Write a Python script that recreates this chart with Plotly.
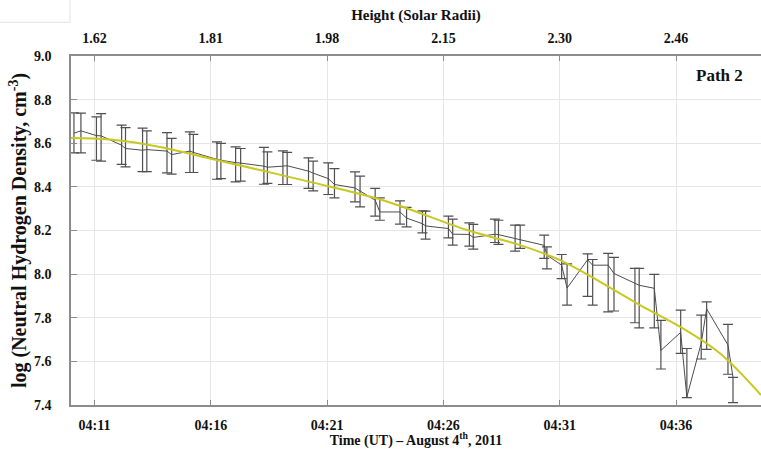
import plotly.graph_objects as go

DAY = "2011-08-04 "

# Observation times (UT) and log neutral hydrogen density along path 2
obs_time = [
    "04:10:07", "04:10:25", "04:11:05", "04:11:17", "04:12:10", "04:12:20",
    "04:13:04", "04:13:15", "04:14:07", "04:14:19", "04:15:06", "04:15:15",
    "04:16:16", "04:16:26", "04:17:04", "04:17:17", "04:18:17", "04:18:26",
    "04:19:06", "04:19:17", "04:20:12", "04:20:24", "04:21:03", "04:21:19",
    "04:22:12", "04:22:25", "04:23:04", "04:23:16", "04:24:08", "04:24:25",
    "04:25:06", "04:25:14", "04:26:13", "04:26:24", "04:27:07", "04:27:17",
    "04:28:13", "04:28:22", "04:29:05", "04:29:18", "04:30:20", "04:30:27",
    "04:31:05", "04:31:19", "04:32:12", "04:32:25", "04:33:05", "04:33:20",
    "04:34:14", "04:34:25", "04:35:04", "04:35:21", "04:36:12", "04:36:28",
    "04:37:05", "04:37:19", "04:38:14", "04:38:27",
]
log_density = [
    8.646, 8.657, 8.635, 8.634, 8.591, 8.576, 8.568, 8.571, 8.564, 8.548,
    8.564, 8.558, 8.526, 8.522, 8.511, 8.509, 8.495, 8.490, 8.495, 8.497,
    8.472, 8.463, 8.438, 8.411, 8.395, 8.380, 8.339, 8.285, 8.285, 8.257,
    8.231, 8.221, 8.209, 8.183, 8.182, 8.168, 8.183, 8.181, 8.164, 8.158,
    8.132, 8.087, 8.041, 7.936, 8.066, 8.041, 8.041, 8.003, 7.957, 7.949,
    7.935, 7.650, 7.733, 7.437, 7.684, 7.841, 7.675, 7.527,
]
# Upper and lower ends of each uncertainty bar
bar_upper = [
    8.739, 8.738, 8.721, 8.736, 8.683, 8.672, 8.669, 8.657, 8.649, 8.622,
    8.652, 8.641, 8.606, 8.599, 8.583, 8.576, 8.581, 8.560, 8.565, 8.558,
    8.533, 8.518, 8.510, 8.484, 8.469, 8.449, 8.393, 8.350, 8.336, 8.306,
    8.290, 8.289, 8.266, 8.252, 8.235, 8.228, 8.252, 8.247, 8.225, 8.225,
    8.179, 8.125, 8.090, 8.047, 8.093, 8.067, 8.095, 8.077, 8.026, 8.026,
    7.999, 7.788, 7.835, 7.659, 7.812, 7.873, 7.770, 7.527,
]
bar_lower = [
    8.556, 8.556, 8.522, 8.518, 8.503, 8.492, 8.470, 8.470, 8.464, 8.458,
    8.466, 8.466, 8.435, 8.438, 8.423, 8.426, 8.412, 8.416, 8.411, 8.411,
    8.393, 8.382, 8.365, 8.350, 8.331, 8.308, 8.266, 8.247, 8.229, 8.217,
    8.189, 8.160, 8.166, 8.133, 8.128, 8.115, 8.145, 8.136, 8.105, 8.118,
    8.072, 8.024, 7.979, 7.858, 7.898, 7.858, 7.827, 7.831, 7.777, 7.754,
    7.754, 7.565, 7.637, 7.434, 7.611, 7.655, 7.541, 7.411,
]

# Smooth model fit
fit_time = [
    "04:09:59", "04:11:40", "04:13:49", "04:15:58", "04:18:07", "04:20:16",
    "04:23:24", "04:27:01", "04:29:18", "04:31:01", "04:32:44", "04:34:27",
    "04:36:10", "04:37:53", "04:39:39",
]
fit_density = [
    8.624, 8.617, 8.583, 8.530, 8.477, 8.423, 8.339, 8.202, 8.133, 8.064,
    7.965, 7.858, 7.759, 7.637, 7.446,
]

time_ticks = ["04:11", "04:16", "04:21", "04:26", "04:31", "04:36"]
height_labels = ["1.62", "1.81", "1.98", "2.15", "2.30", "2.46"]
density_ticks = [7.4, 7.6, 7.8, 8.0, 8.2, 8.4, 8.6, 8.8, 9.0]

x_range = [DAY + "04:09:59.4", DAY + "04:39:39.2"]
tick_pos = [DAY + t + ":00" for t in time_ticks]

SERIF = "Liberation Serif, DejaVu Serif, serif"
AXIS_GRAY = "#8c8c8c"
GRID = "#e6e6e6"
tick_font = dict(family=SERIF, size=14, color="#111", weight="bold")
title_font = dict(family=SERIF, size=15, color="#111", weight="bold")

fig = go.Figure()

fig.add_trace(go.Scatter(
    x=[DAY + t for t in obs_time],
    y=log_density,
    mode="lines",
    line=dict(color="#4d4d4d", width=1),
    error_y=dict(
        type="data",
        symmetric=False,
        array=[u - v for u, v in zip(bar_upper, log_density)],
        arrayminus=[v - l for v, l in zip(log_density, bar_lower)],
        color="#505050",
        thickness=1.2,
        width=5,
    ),
    showlegend=False,
    hoverinfo="skip",
))

fig.add_trace(go.Scatter(
    x=[DAY + t for t in fit_time],
    y=fit_density,
    mode="lines",
    line=dict(color="#c8c81e", width=2, shape="spline"),
    showlegend=False,
    hoverinfo="skip",
))

# empty trace so the top (height) axis is rendered
fig.add_trace(go.Scatter(x=[], y=[], xaxis="x2", yaxis="y", showlegend=False))

fig.update_layout(
    width=761,
    height=449,
    margin=dict(l=71, r=0, t=56, b=44),
    paper_bgcolor="white",
    plot_bgcolor="white",
    xaxis=dict(
        type="date",
        range=x_range,
        tickvals=tick_pos,
        ticktext=time_ticks,
        ticks="inside",
        ticklen=5,
        tickcolor=AXIS_GRAY,
        showline=True,
        linecolor=AXIS_GRAY,
        linewidth=1.5,
        showgrid=True,
        gridcolor=GRID,
        zeroline=False,
        tickfont=tick_font,
        ticklabelstandoff=6,
        title=dict(text="Time (UT) \u2013 August 4<sup>th</sup>, 2011",
                   font=dict(family=SERIF, size=14, color="#111", weight="bold"),
                   standoff=1),
    ),
    xaxis2=dict(
        type="date",
        overlaying="x",
        side="top",
        range=x_range,
        tickvals=tick_pos,
        ticktext=height_labels,
        ticks="inside",
        ticklen=5,
        tickcolor=AXIS_GRAY,
        showline=True,
        linecolor=AXIS_GRAY,
        linewidth=1.5,
        showgrid=False,
        zeroline=False,
        tickfont=tick_font,
        ticklabelstandoff=6,
        title=dict(text="Height (Solar Radii)", font=title_font, standoff=6),
    ),
    yaxis=dict(
        range=[7.4, 9.0],
        tickvals=density_ticks,
        tickformat=".1f",
        ticks="inside",
        ticklen=6,
        tickcolor=AXIS_GRAY,
        showline=True,
        linecolor=AXIS_GRAY,
        linewidth=1.5,
        showgrid=True,
        gridcolor=GRID,
        zeroline=False,
        tickfont=tick_font,
        ticklabelstandoff=15,
        title=dict(text="log (Neutral Hydrogen Density, cm<sup>-3</sup>)",
                   font=dict(family=SERIF, size=20, color="#111", weight="bold"),
                   standoff=2),
    ),
    annotations=[dict(
        text="Path 2", xref="paper", yref="paper", x=0.977, y=0.945,
        xanchor="right", yanchor="middle", showarrow=False,
        font=dict(family=SERIF, size=17, color="#111", weight="bold"),
    )],
    shapes=[
        dict(type="line", xref="paper", yref="paper", x0=-0.103, x1=-0.0015,
             y0=1.0965, y1=1.0965, line=dict(color="#e2e2e2", width=1)),
        dict(type="line", xref="paper", yref="paper", x0=-0.0015, x1=-0.0015,
             y0=1.0965, y1=1.16, line=dict(color="#e2e2e2", width=1)),
    ],
)

fig.write_html("out.html")
